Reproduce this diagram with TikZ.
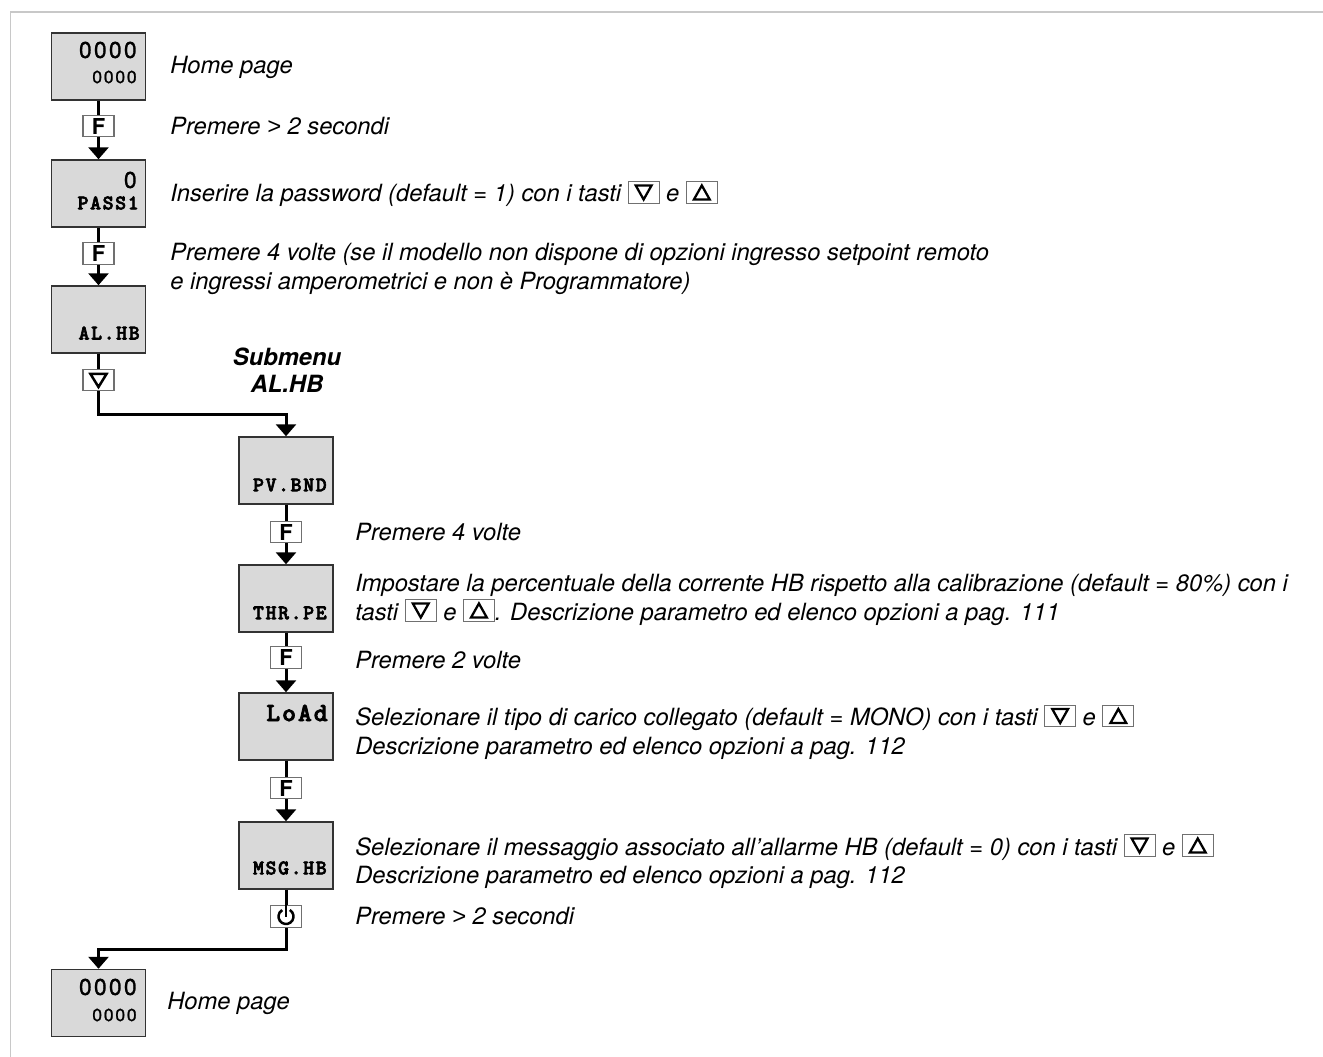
\documentclass[tikz,border=0pt]{standalone}
\usepackage{fontspec}
\usepackage{tikz}
\usepackage{xcolor}
\usetikzlibrary{arrows.meta,positioning,calc}
\setmainfont{TeX Gyre Heros}
\newfontfamily\dispfont[LetterSpace=10,FakeBold=1.2]{TeX Gyre Heros}
\newfontfamily\arialfont{Liberation Sans}
\newfontfamily\lcdfont[FakeBold=3,LetterSpace=8]{lmmonolt10-bold.otf}
\definecolor{framegray}{HTML}{C8C8C8}
\definecolor{dispgray}{HTML}{D9D9D9}
\definecolor{boxline}{HTML}{333333}
\definecolor{keyline}{HTML}{707070}
\newcommand{\gt}{{\arialfont\itshape >}}
\newcommand{\tastogiu}{\tikz[baseline=0pt,x=1pt,y=1pt]{%
  \draw[draw=keyline,line width=0.5pt,fill=white] (0,-0.8) rectangle (17.6,11.7);
  \draw[line width=1.3pt,line join=miter] (4.3,9.4) -- (13.3,9.4) -- (8.8,1.4) -- cycle;}}
\newcommand{\tastosu}{\tikz[baseline=0pt,x=1pt,y=1pt]{%
  \draw[draw=keyline,line width=0.5pt,fill=white] (0,-0.8) rectangle (17.6,11.7);
  \draw[line width=1.3pt,line join=miter] (4.3,1.4) -- (13.3,1.4) -- (8.8,9.4) -- cycle;}}
\tikzset{
  display/.style={draw=boxline,fill=dispgray,line width=0.03cm,
                  minimum width=1.88cm,minimum height=1.34cm,inner sep=0pt},
  keybox/.style={draw=keyline,fill=white,line width=0.025cm,
                 minimum width=0.62cm,minimum height=0.43cm,inner sep=0pt,
                 font=\bfseries\fontsize{12.5}{12.5}\selectfont},
  keysym/.style={line width=0.05cm,line join=miter},
  lcdbig/.style={anchor=east,inner sep=0pt,font=\dispfont\fontsize{13}{13}\selectfont},
  lcdsmall/.style={anchor=east,inner sep=0pt,font=\dispfont\fontsize{10}{10}\selectfont},
  lcdname/.style={anchor=east,inner sep=0pt,font=\lcdfont\fontsize{11.8}{11.8}\selectfont},
  lcdwide/.style={anchor=east,inner sep=0pt,font=\lcdfont\fontsize{14.9}{14.9}\selectfont},
  note/.style={anchor=west,align=left,inner sep=0pt,font=\itshape\fontsize{13.5}{16.4}\selectfont},
  subhead/.style={align=center,inner sep=0pt,font=\bfseries\itshape\fontsize{13.5}{15.2}\selectfont},
  flowline/.style={line width=0.06cm},
  flowarr/.style={-{Triangle[length=0.24cm,width=0.4cm]},line width=0.06cm},
  framerule/.style={draw=framegray,line width=0.04cm}
}
\begin{document}
\begin{tikzpicture}[x=0.02cm,y=0.02cm]
  \useasboundingbox (0,0) rectangle (1323,-1057);
  \draw[framerule] (10.5,-1057) -- (10.5,-12.5) -- (1323,-12.5);

  % main menu
  \node[display] (home) at (98.5,-66.5) {};
  \node[lcdbig] (home-a) at (137,-50) {0000};
  \node[lcdsmall] (home-b) at (137,-77) {0000};
  \node[keybox] (kf1) at (98.5,-126) {F};
  \node[display] (pass) at (98.5,-193.5) {};
  \node[lcdbig] (pass-a) at (137,-180) {0};
  \node[lcdname] (pass-b) at (139,-203) {PASS1};
  \node[keybox] (kf2) at (98.5,-253.5) {F};
  \node[display] (alhb) at (98.5,-319.5) {};
  \node[lcdname] (alhb-a) at (140,-333) {AL.HB};
  \node[keybox] (kdn) at (98.5,-380) {};
  \draw[keysym] ($(kdn.center)+(-8,6)$) -- ($(kdn.center)+(8,6)$) -- ($(kdn.center)+(0,-7)$) -- cycle;

  % submenu AL.HB
  \node[subhead] (sub) at (287,-370) {Submenu\\AL.HB};
  \node[display] (pvbnd) at (286,-470.5) {};
  \node[lcdname] (pvbnd-a) at (327,-485) {PV.BND};
  \node[keybox] (kf3) at (286,-532) {F};
  \node[display] (thrpe) at (286,-598.5) {};
  \node[lcdname] (thrpe-a) at (327,-613) {THR.PE};
  \node[keybox] (kf4) at (286,-657.5) {F};
  \node[display] (load) at (286,-726.5) {};
  \node[lcdwide] (load-a) at (328,-713) {LoAd};
  \node[keybox] (kf5) at (286,-788) {F};
  \node[display] (msghb) at (286,-855.5) {};
  \node[lcdname] (msghb-a) at (327,-868) {MSG.HB};
  \node[keybox] (kpow) at (286,-916.5) {};
  \draw[keysym] ([shift={(60:0.15cm)}]kpow.center) arc[start angle=60,end angle=-240,radius=0.15cm];
  \draw[keysym] (kpow.north) -- (kpow.center);

  \node[display] (home2) at (98.5,-1003) {};
  \node[lcdbig] (home2-a) at (137,-987) {0000};
  \node[lcdsmall] (home2-b) at (137,-1015) {0000};

  \coordinate (bend1) at (98.5,-415);
  \coordinate (bend2) at (286,-949);

  \draw[flowline] (home) -- (kf1);
  \draw[flowarr] (kf1) -- (pass);
  \draw[flowline] (pass) -- (kf2);
  \draw[flowarr] (kf2) -- (alhb);
  \draw[flowline] (alhb) -- (kdn);
  \draw[flowarr] (kdn) -- (bend1) -| (pvbnd.north);
  \draw[flowline] (pvbnd) -- (kf3);
  \draw[flowarr] (kf3) -- (thrpe);
  \draw[flowline] (thrpe) -- (kf4);
  \draw[flowarr] (kf4) -- (load);
  \draw[flowline] (load) -- (kf5);
  \draw[flowarr] (kf5) -- (msghb);
  \draw[flowline] (msghb) -- (kpow);
  \draw[flowarr] (kpow) -- (bend2) -| (home2.north);

  % descriptions
  \node[note] (n1) at (170,-67) {Home page};
  \node[note] (n2) at (170,-126) {Premere \gt\ 2 secondi};
  \node[note] (n3) at (170,-194) {Inserire la password (default = 1) con i tasti \tastogiu\ e \tastosu};
  \node[note] (n4) at (170,-269) {Premere 4 volte (se il modello non dispone di opzioni ingresso setpoint remoto\\e ingressi amperometrici e non è Programmatore)};
  \node[note] (n5) at (355,-532) {Premere 4 volte};
  \node[note] (n6) at (355,-599.5) {Impostare la percentuale della corrente HB rispetto alla calibrazione (default = 80\%) con i\\tasti \tastogiu\ e \tastosu. Descrizione parametro ed elenco opzioni a pag. 111};
  \node[note] (n7) at (355,-660) {Premere 2 volte};
  \node[note] (n8) at (355,-732) {Selezionare il tipo di carico collegato (default = MONO) con i tasti \tastogiu\ e \tastosu\\Descrizione parametro ed elenco opzioni a pag. 112};
  \node[note] (n9) at (355,-861.5) {Selezionare il messaggio associato all’allarme HB (default = 0) con i tasti \tastogiu\ e \tastosu\\Descrizione parametro ed elenco opzioni a pag. 112};
  \node[note] (n10) at (355,-916) {Premere \gt\ 2 secondi};
  \node[note] (n11) at (167,-1003) {Home page};
\end{tikzpicture}
\end{document}
